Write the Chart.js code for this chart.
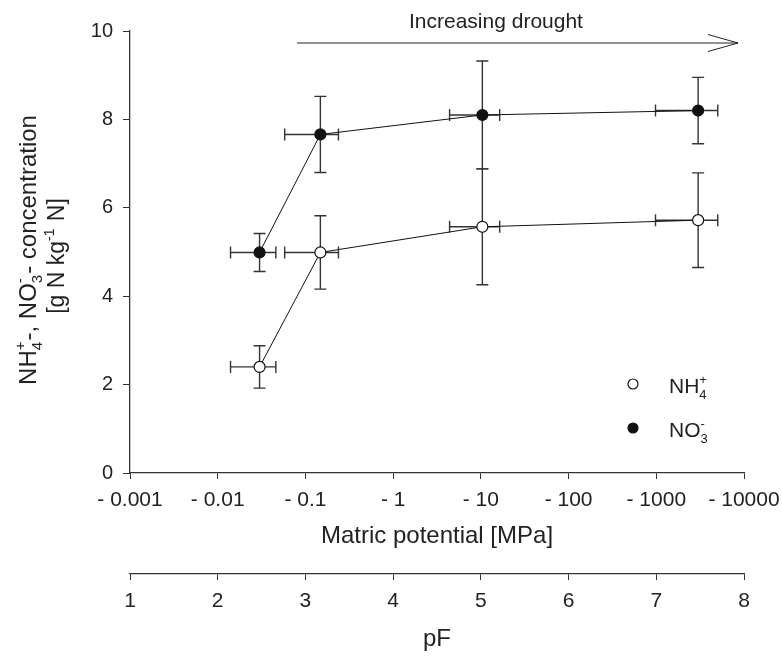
<!DOCTYPE html>
<html>
<head>
<meta charset="utf-8">
<script src="https://cdn.jsdelivr.net/npm/chart.js@4.4.1/dist/chart.umd.min.js"></script>
<style>
    html, body { margin: 0; padding: 0; background: #fff; }
    #wrap { width: 782px; height: 660px; }
</style>
</head>
<body>
<div id="wrap"><canvas id="chart" width="782" height="660"></canvas></div>
<script>
// Matric potential (absolute value, MPa) and its SD
const matricPotential = [0.03, 0.148, 10.4, 3000];
const matricPotentialErr = [0.016, 0.09, 6, 2020];

// N concentrations [g N kg-1 N] with SD
const nh4Values = [2.40, 4.99, 5.57, 5.72];
const nh4Err = [0.48, 0.83, 1.31, 1.07];
const no3Values = [4.99, 7.66, 8.10, 8.20];
const no3Err = [0.43, 0.86, 1.22, 0.75];

// Tick labels
const matricTicks = [0.001, 0.01, 0.1, 1, 10, 100, 1000, 10000];
const pFTicks = [1, 2, 3, 4, 5, 6, 7, 8];
const yTicks = [0, 2, 4, 6, 8, 10];

const FONT = "'Liberation Sans', Arial, sans-serif";
const INK = '#222';

// Text with stacked sub/superscripts, e.g. NH4+
// parts: plain strings or { sub, sup } objects
function richWidth(ctx, parts, size) {
    let w = 0;
    parts.forEach(p => {
        if (typeof p === 'string') {
            ctx.font = size + 'px ' + FONT;
            w += ctx.measureText(p).width;
        } else {
            ctx.font = Math.round(size * 0.62) + 'px ' + FONT;
            w += Math.max(p.sub ? ctx.measureText(p.sub).width : 0, p.sup ? ctx.measureText(p.sup).width : 0) + 1;
        }
    });
    return w;
}

function drawRich(ctx, parts, x, y, size) {
    ctx.textBaseline = 'alphabetic';
    ctx.textAlign = 'left';
    parts.forEach(p => {
        if (typeof p === 'string') {
            ctx.font = size + 'px ' + FONT;
            ctx.fillText(p, x, y);
            x += ctx.measureText(p).width;
        } else {
            ctx.font = Math.round(size * 0.62) + 'px ' + FONT;
            let w = 0;
            if (p.sub) {
                ctx.fillText(p.sub, x, y + size * 0.27);
                w = ctx.measureText(p.sub).width;
            }
            if (p.sup) {
                ctx.fillText(p.sup, x, y - size * 0.45);
                w = Math.max(w, ctx.measureText(p.sup).width);
            }
            x += w + 1;
        }
    });
}

// error bars in x and y, drawn under the markers
const errorBars = {
    id: 'errorBars',
    beforeDatasetsDraw(chart) {
        const { ctx } = chart;
        const xs = chart.scales.x, ys = chart.scales.y;
        const cap = 6;
        ctx.save();
        ctx.strokeStyle = '#333';
        ctx.lineWidth = 1.4;
        chart.data.datasets.forEach(ds => {
            ds.data.forEach((p, i) => {
                const px = xs.getPixelForValue(p.x);
                const py = ys.getPixelForValue(p.y);
                const yTop = ys.getPixelForValue(p.y + ds.yErr[i]);
                const yBot = ys.getPixelForValue(p.y - ds.yErr[i]);
                const xL = xs.getPixelForValue(p.x - ds.xErr[i]);
                const xR = xs.getPixelForValue(p.x + ds.xErr[i]);
                ctx.beginPath();
                ctx.moveTo(px, yTop); ctx.lineTo(px, yBot);
                ctx.moveTo(px - cap, yTop); ctx.lineTo(px + cap, yTop);
                ctx.moveTo(px - cap, yBot); ctx.lineTo(px + cap, yBot);
                ctx.moveTo(xL, py); ctx.lineTo(xR, py);
                ctx.moveTo(xL, py - cap); ctx.lineTo(xL, py + cap);
                ctx.moveTo(xR, py - cap); ctx.lineTo(xR, py + cap);
                ctx.stroke();
            });
        });
        ctx.restore();
    }
};

// y title, drought arrow and legend
const decorations = {
    id: 'decorations',
    afterDraw(chart) {
        const { ctx, chartArea: area } = chart;
        ctx.save();
        ctx.fillStyle = INK;
        ctx.strokeStyle = INK;

        // rotated y-axis title (two lines)
        const cy = (area.top + area.bottom) / 2;
        const line1 = ['NH', { sub: '4', sup: '+' }, '-, NO', { sub: '3', sup: '-' }, '- concentration'];
        const line2 = ['[g N kg', { sup: '-1' }, ' N]'];
        [[line1, 36, 24, -2], [line2, 64, 23, 4]].forEach(([parts, bx, size, dy]) => {
            ctx.save();
            ctx.translate(bx, cy + dy);
            ctx.rotate(-Math.PI / 2);
            const w = richWidth(ctx, parts, size);
            drawRich(ctx, parts, -w / 2, 0, size);
            ctx.restore();
        });

        // arrow "Increasing drought"
        const ay = area.top + 12;
        const ax0 = area.left + 167, ax1 = area.left + 608;
        ctx.lineWidth = 1;
        ctx.beginPath();
        ctx.moveTo(ax0, ay); ctx.lineTo(ax1, ay);
        ctx.moveTo(ax1 - 30, ay - 8.5); ctx.lineTo(ax1, ay); ctx.lineTo(ax1 - 30, ay + 8.5);
        ctx.stroke();
        ctx.font = '21px ' + FONT;
        ctx.textAlign = 'left';
        ctx.textBaseline = 'alphabetic';
        ctx.fillText('Increasing drought', area.left + 279, area.top - 3);

        // legend
        const items = [
            { parts: ['NH', { sub: '4', sup: '+' }], fill: '#fff', y: area.top + 353 },
            { parts: ['NO', { sub: '3', sup: '-' }], fill: '#111', y: area.top + 397 }
        ];
        items.forEach(it => {
            ctx.beginPath();
            ctx.arc(area.right - 111, it.y, 5, 0, Math.PI * 2);
            ctx.fillStyle = it.fill;
            ctx.fill();
            ctx.lineWidth = 1.2;
            ctx.strokeStyle = '#111';
            ctx.stroke();
            ctx.fillStyle = INK;
            drawRich(ctx, it.parts, area.right - 75, it.y + 9, 21);
        });
        ctx.restore();
    }
};

const axisGrid = { drawOnChartArea: false, drawTicks: true, tickLength: 6, color: '#333', lineWidth: 1 };
const axisBorder = { color: '#333', width: 1.3 };

// keep the plot area fixed: labels may overhang into the layout padding
function fixHeight(h) {
    return s => { s.height = h; s.paddingLeft = 0; s.paddingRight = 0; };
}

new Chart(document.getElementById('chart'), {
    type: 'scatter',
    data: {
        datasets: [
            {
                label: 'NH4+',
                data: nh4Values.map((v, i) => ({ x: matricPotential[i], y: v })),
                xErr: matricPotentialErr,
                yErr: nh4Err,
                showLine: true,
                borderColor: '#111',
                borderWidth: 1,
                pointRadius: 5.5,
                pointHoverRadius: 5.5,
                pointBackgroundColor: '#fff',
                pointBorderColor: '#111',
                pointBorderWidth: 1.2
            },
            {
                label: 'NO3-',
                data: no3Values.map((v, i) => ({ x: matricPotential[i], y: v })),
                xErr: matricPotentialErr,
                yErr: no3Err,
                showLine: true,
                borderColor: '#111',
                borderWidth: 1,
                pointRadius: 5.5,
                pointHoverRadius: 5.5,
                pointBackgroundColor: '#111',
                pointBorderColor: '#111',
                pointBorderWidth: 1.2
            }
        ]
    },
    options: {
        responsive: false,
        animation: false,
        devicePixelRatio: 1,
        layout: { padding: { top: 31, right: 38, bottom: 0, left: 0 } },
        plugins: { legend: { display: false }, tooltip: { enabled: false } },
        scales: {
            x: {
                type: 'logarithmic',
                position: 'bottom',
                weight: 0,
                min: 0.001,
                max: 10000,
                afterBuildTicks: s => { s.ticks = matricTicks.map(v => ({ value: v })); },
                afterFit: fixHeight(101),
                grid: axisGrid,
                border: axisBorder,
                ticks: {
                    autoSkip: false,
                    maxRotation: 0,
                    padding: 9,
                    color: INK,
                    font: { family: FONT, size: 21 },
                    callback: v => '- ' + v
                },
                title: {
                    display: true,
                    text: 'Matric potential [MPa]',
                    color: INK,
                    font: { family: FONT, size: 24 },
                    padding: { top: 0, bottom: 23 }
                }
            },
            pF: {
                type: 'linear',
                position: 'bottom',
                weight: 1,
                min: 1,
                max: 8,
                afterBuildTicks: s => { s.ticks = pFTicks.map(v => ({ value: v })); },
                afterFit: fixHeight(86),
                grid: axisGrid,
                border: axisBorder,
                ticks: {
                    autoSkip: false,
                    maxRotation: 0,
                    padding: 9,
                    color: INK,
                    font: { family: FONT, size: 21 }
                },
                title: {
                    display: true,
                    text: 'pF',
                    color: INK,
                    font: { family: FONT, size: 24 },
                    padding: { top: 0, bottom: 6 }
                }
            },
            y: {
                min: 0,
                max: 10,
                afterBuildTicks: s => { s.ticks = yTicks.map(v => ({ value: v })); },
                afterFit: s => { s.width = 130; s.paddingTop = 0; s.paddingBottom = 0; },
                grid: { drawOnChartArea: false, drawTicks: true, tickLength: 7, color: '#333', lineWidth: 1 },
                border: axisBorder,
                ticks: {
                    padding: 10,
                    color: INK,
                    font: { family: FONT, size: 20 }
                }
            }
        }
    },
    plugins: [errorBars, decorations]
});
</script>
</body>
</html>
